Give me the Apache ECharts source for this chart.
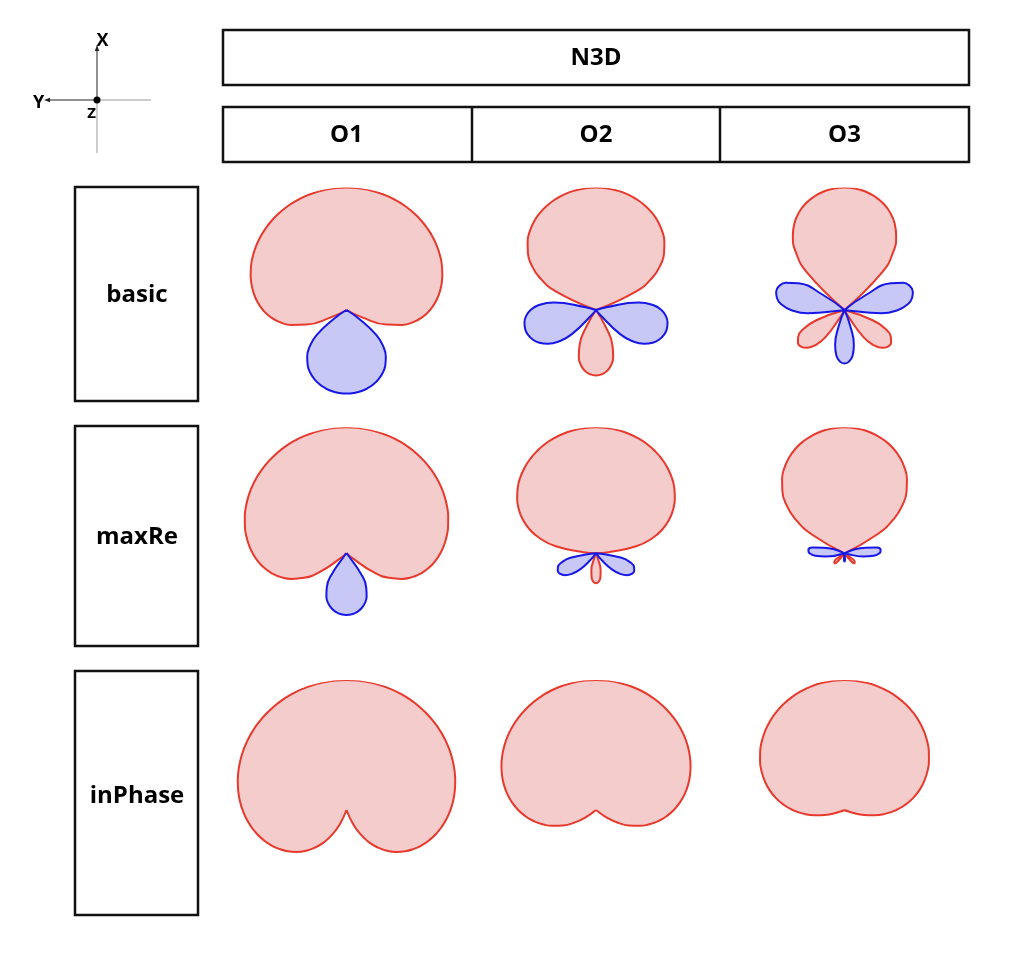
<!DOCTYPE html>
<html>
<head>
<meta charset="utf-8">
<script src="https://cdn.jsdelivr.net/npm/echarts@6/dist/echarts.min.js"></script>
<style>html,body{margin:0;padding:0;background:#fff}#c{width:1024px;height:961px}</style>
</head>
<body>
<div id="c"></div>
<script>
// ---- text ----
const headerLabel = 'N3D';
const orderLabels = ['O1', 'O2', 'O3'];
const decoderLabels = ['basic', 'maxRe', 'inPhase'];
const axisLetters = ['X', 'Y', 'Z'];

// ---- data: level (dB re. on-axis) of the decoding pattern, source angle 0..180 deg, step 5 ----
const angleStep = 5;
const floorDb = -30;
const basicO1 = [0, -0.02, -0.09, -0.2, -0.36, -0.56, -0.81, -1.12, -1.47, -1.89, -2.36, -2.91, -3.52, -4.22, -5.02, -5.92, -6.95, -8.15, -9.54, -11.21, -13.25, -15.87, -19.55, -25.75, -30, -26.18, -20.43, -17.2, -15.02, -13.44, -12.25, -11.35, -10.66, -10.16, -9.81, -9.61, -9.54];
const basicO2 = [0, -0.07, -0.27, -0.6, -1.09, -1.73, -2.54, -3.55, -4.79, -6.32, -8.23, -10.67, -13.98, -19.02, -30, -27.36, -19.46, -15.97, -13.98, -12.81, -12.21, -12.04, -12.28, -12.91, -13.98, -15.59, -17.95, -21.64, -28.65, -30, -25.42, -20.48, -17.69, -15.92, -14.8, -14.18, -13.98];
const basicO3 = [0, -0.13, -0.54, -1.23, -2.24, -3.62, -5.46, -7.94, -11.42, -16.9, -30, -23.49, -16.9, -14.15, -12.93, -12.67, -13.2, -14.54, -16.9, -20.96, -29.8, -30, -22.65, -18.83, -16.9, -16.07, -16.08, -16.9, -18.68, -21.89, -28.34, -30, -26.09, -21.14, -18.6, -17.31, -16.9];
const maxReO1 = [0, -0.02, -0.08, -0.18, -0.31, -0.49, -0.71, -0.97, -1.28, -1.64, -2.04, -2.5, -3.01, -3.59, -4.23, -4.95, -5.75, -6.65, -7.66, -8.8, -10.1, -11.61, -13.4, -15.56, -18.32, -22.14, -28.48, -30, -29.24, -23.65, -20.62, -18.66, -17.31, -16.39, -15.77, -15.42, -15.31];
const maxReO2 = [0, -0.05, -0.2, -0.46, -0.83, -1.3, -1.9, -2.62, -3.48, -4.49, -5.68, -7.08, -8.73, -10.7, -13.1, -16.14, -20.29, -27.03, -30, -28.78, -23.82, -21.49, -20.35, -19.96, -20.17, -20.93, -22.28, -24.41, -27.74, -30, -30, -30, -28.61, -25.73, -24.06, -23.16, -22.88];
const maxReO3 = [0, -0.1, -0.38, -0.87, -1.56, -2.47, -3.64, -5.09, -6.88, -9.09, -11.89, -15.57, -20.94, -30, -30, -24.85, -22.19, -21.36, -21.68, -23, -25.5, -29.85, -30, -30, -30, -28.19, -26.81, -26.62, -27.47, -29.52, -30, -30, -30, -30, -30, -28.58, -28.05];
const inPhaseO1 = [0, -0.02, -0.07, -0.15, -0.27, -0.42, -0.6, -0.82, -1.08, -1.38, -1.71, -2.08, -2.5, -2.96, -3.47, -4.02, -4.63, -5.29, -6.02, -6.81, -7.68, -8.62, -9.66, -10.79, -12.04, -13.42, -14.96, -16.69, -18.64, -20.88, -23.48, -26.59, -30, -30, -30, -30, -30];
const inPhaseO2 = [0, -0.03, -0.13, -0.3, -0.53, -0.83, -1.2, -1.65, -2.16, -2.75, -3.42, -4.17, -5, -5.92, -6.93, -8.04, -9.26, -10.59, -12.04, -13.63, -15.35, -17.24, -19.31, -21.58, -24.08, -26.84, -29.92, -30, -30, -30, -30, -30, -30, -30, -30, -30, -30];
const inPhaseO3 = [0, -0.05, -0.2, -0.45, -0.8, -1.25, -1.81, -2.47, -3.24, -4.13, -5.13, -6.25, -7.5, -8.88, -10.4, -12.06, -13.89, -15.88, -18.06, -20.44, -23.03, -25.87, -28.97, -30, -30, -30, -30, -30, -30, -30, -30, -30, -30, -30, -30, -30, -30];
// angles (deg) where the pattern changes polarity
const basicO1Flips = [120];
const basicO2Flips = [72, 144];
const basicO3Flips = [51.4, 102.9, 154.3];
const maxReO1Flips = [135];
const maxReO2Flips = [90, 150];
const maxReO3Flips = [67.5, 112.5, 157.5];
const inPhaseO1Flips = [];
const inPhaseO2Flips = [];
const inPhaseO3Flips = [];

const grid = [
  [[basicO1, basicO1Flips], [basicO2, basicO2Flips], [basicO3, basicO3Flips]],
  [[maxReO1, maxReO1Flips], [maxReO2, maxReO2Flips], [maxReO3, maxReO3Flips]],
  [[inPhaseO1, inPhaseO1Flips], [inPhaseO2, inPhaseO2Flips], [inPhaseO3, inPhaseO3Flips]]
];

// ---- layout ----
const colX = [346.5, 596, 844.5];
const rowY = [310, 553.3, 810];
const rowR = [122.5, 126, 130];
const posStroke = '#e8392c', posFill = '#f5cccc';
const negStroke = '#1717e8', negFill = '#c8c8f6';

function lobeData(levels, flips, polarity) {
  const n = Math.round(360 / angleStep);
  const vals = [];
  for (let i = 0; i < n; i++) {
    const a = i * angleStep;
    const m = a <= 180 ? a : 360 - a;
    const lv = levels[Math.round(m / angleStep)];
    const cnt = flips.filter(f => f < m).length;
    const sign = cnt % 2 === 0 ? 1 : -1;
    vals.push(sign === polarity && lv > floorDb ? lv : floorDb);
  }
  const s = vals.findIndex(v => v <= floorDb);
  const data = [];
  let inLobe = false, prevA = s * angleStep;
  for (let k = 0; k <= n; k++) {
    const i = (s + k) % n;
    const v = vals[i];
    const a = i * angleStep;
    if (v > floorDb) {
      if (!inLobe) { data.push([floorDb, prevA]); inLobe = true; }
      data.push([v, a]);
    } else if (inLobe) {
      data.push([floorDb, a]);
      data.push(['-', '-']);
      inLobe = false;
    }
    prevA = a;
  }
  return data;
}

const polar = [], angleAxis = [], radiusAxis = [], series = [];
let pi = 0;
for (let r = 0; r < 3; r++) {
  for (let c = 0; c < 3; c++) {
    const [levels, flips] = grid[r][c];
    polar.push({ center: [colX[c], rowY[r]], radius: rowR[r] });
    angleAxis.push({ polarIndex: pi, type: 'value', min: 0, max: 360, startAngle: 90, clockwise: true, show: false });
    radiusAxis.push({ polarIndex: pi, type: 'value', min: floorDb, max: 0, show: false });
    [[1, posStroke, posFill], [-1, negStroke, negFill]].forEach(([pol, st, fi]) => {
      const d = lobeData(levels, flips, pol);
      if (!d.length) return;
      series.push({
        type: 'line', coordinateSystem: 'polar', polarIndex: pi, data: d,
        smooth: 0.5, symbol: 'none', clip: false, silent: true, connectNulls: false,
        lineStyle: { color: st, width: 2 },
        areaStyle: { color: fi, opacity: 1, origin: 'start' },
        z: pol === 1 ? 2 : 3
      });
    });
    pi++;
  }
}

const K = '#111';
const font = s => 'bold ' + s + 'px "Open Sans", "DejaVu Sans", sans-serif';
const graphic = [
  { type: 'rect', shape: { x: 223, y: 30, width: 746, height: 55 }, style: { fill: 'none', stroke: K, lineWidth: 2.5 } },
  { type: 'rect', shape: { x: 223, y: 107, width: 746, height: 55 }, style: { fill: 'none', stroke: K, lineWidth: 2.5 } },
  { type: 'line', shape: { x1: 472, y1: 107, x2: 472, y2: 162 }, style: { stroke: K, lineWidth: 2.5 } },
  { type: 'line', shape: { x1: 720, y1: 107, x2: 720, y2: 162 }, style: { stroke: K, lineWidth: 2.5 } },
  { type: 'rect', shape: { x: 75, y: 187, width: 123, height: 214 }, style: { fill: 'none', stroke: K, lineWidth: 2.5 } },
  { type: 'rect', shape: { x: 75, y: 426, width: 123, height: 220 }, style: { fill: 'none', stroke: K, lineWidth: 2.5 } },
  { type: 'rect', shape: { x: 75, y: 671, width: 123, height: 244 }, style: { fill: 'none', stroke: K, lineWidth: 2.5 } },
  { type: 'text', x: 596, y: 58, style: { text: headerLabel, font: font(24), fill: '#000', align: 'center', verticalAlign: 'middle' } },
  // axis icon
  { type: 'line', shape: { x1: 97, y1: 100, x2: 97, y2: 153 }, style: { stroke: '#999', lineWidth: 1 } },
  { type: 'line', shape: { x1: 97, y1: 100, x2: 151, y2: 100 }, style: { stroke: '#999', lineWidth: 1 } },
  { type: 'line', shape: { x1: 97, y1: 100, x2: 97, y2: 49 }, style: { stroke: '#222', lineWidth: 1 } },
  { type: 'line', shape: { x1: 97, y1: 100, x2: 48, y2: 100 }, style: { stroke: '#222', lineWidth: 1 } },
  { type: 'polygon', shape: { points: [[97, 45], [94.8, 51], [99.2, 51]] }, style: { fill: '#222' } },
  { type: 'polygon', shape: { points: [[44, 100], [50, 97.8], [50, 102.2]] }, style: { fill: '#222' } },
  { type: 'circle', shape: { cx: 97, cy: 100, r: 3.5 }, style: { fill: '#000' } },
  { type: 'text', x: 102.5, y: 41, style: { text: axisLetters[0], font: font(18), fill: '#000', align: 'center', verticalAlign: 'middle' } },
  { type: 'text', x: 38.5, y: 102.5, style: { text: axisLetters[1], font: font(18), fill: '#000', align: 'center', verticalAlign: 'middle' } },
  { type: 'text', x: 91.5, y: 114, style: { text: axisLetters[2], font: font(15), fill: '#000', align: 'center', verticalAlign: 'middle' } }
];
orderLabels.forEach((t, i) => graphic.push({ type: 'text', x: colX[i], y: 135, style: { text: t, font: font(24), fill: '#000', align: 'center', verticalAlign: 'middle' } }));
const rowLabelY = [295, 537, 796];
decoderLabels.forEach((t, i) => graphic.push({ type: 'text', x: 137, y: rowLabelY[i], style: { text: t, font: font(24), fill: '#000', align: 'center', verticalAlign: 'middle' } }));

const chart = echarts.init(document.getElementById('c'), null, { renderer: 'canvas' });
chart.setOption({
  animation: false,
  backgroundColor: '#fff',
  polar, angleAxis, radiusAxis, series, graphic
});
</script>
</body>
</html>
